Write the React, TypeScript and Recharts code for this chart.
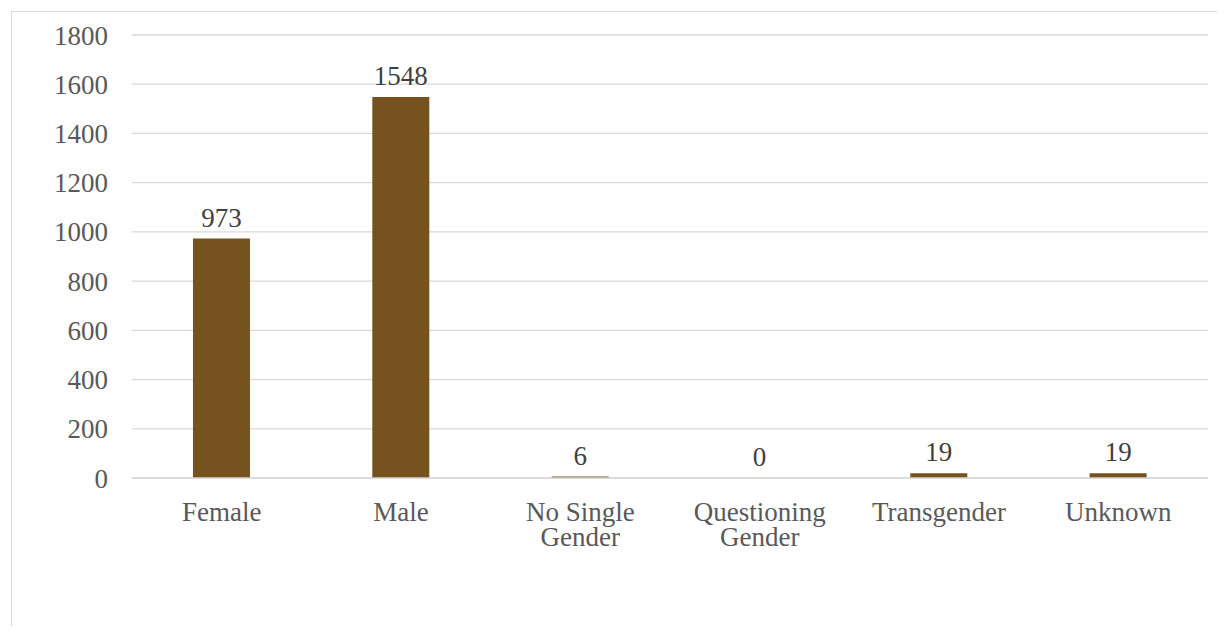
import React from "react";
import { Bar, BarChart, CartesianGrid, LabelList, XAxis, YAxis } from "recharts";

const categories = [
    "Female",
    "Male",
    "No Single Gender",
    "Questioning Gender",
    "Transgender",
    "Unknown",
];
const counts = [973, 1548, 6, 0, 19, 19];
const yTicks = [0, 200, 400, 600, 800, 1000, 1200, 1400, 1600, 1800];

const title = "Figure 6: Total Number of Enrolled Participants per Gender Designation";

const data = categories.map((label, i) => ({ label, total: counts[i] }));

const serif = "'Liberation Serif', 'Times New Roman', serif";

// two-word labels wrap their last word onto a second line
function CategoryTick({ x, y, payload }: any) {
    const words = String(payload.value).split(" ");
    const lines =
        words.length > 1
            ? [words.slice(0, -1).join(" "), words[words.length - 1]]
            : words;
    return (
        <text x={x} y={y} textAnchor="middle" fill="#595959" fontSize={27} fontFamily={serif}>
            {lines.map((line, i) => (
                <tspan key={i} x={x} dy={i === 0 ? 0 : 25}>
                    {line}
                </tspan>
            ))}
        </text>
    );
}

export default function App() {
    return (
        <div
            style={{
                position: "relative",
                width: 1225,
                height: 634,
                margin: -8,
                overflow: "hidden",
                background: "#fff",
            }}
        >
            <svg
                width={1225}
                height={20}
                style={{ position: "absolute", left: 0, top: 0 }}
            >
                <text x={22} y={1.5} fontSize={21} fontWeight="bold" fontFamily={serif} fill="#000">
                    {title}
                </text>
            </svg>
            <div
                style={{
                    position: "absolute",
                    left: 11,
                    top: 11,
                    width: 1400,
                    height: 800,
                    border: "1px solid #d9d9d9",
                }}
            />
            <div style={{ position: "absolute", left: 0, top: 0 }}>
                <BarChart
                    width={1225}
                    height={634}
                    data={data}
                    barCategoryGap="34%"
                    margin={{ top: 35, right: 17, bottom: 76, left: 0 }}
                >
                    <CartesianGrid
                        vertical={false}
                        stroke="#d9d9d9"
                        strokeWidth={1.3}
                    />
                    <XAxis
                        dataKey="label"
                        height={80}
                        interval={0}
                        axisLine={{ stroke: "#d9d9d9", strokeWidth: 1.3 }}
                        tickLine={false}
                        tickSize={0}
                        tickMargin={43}
                        tick={<CategoryTick />}
                    />
                    <YAxis
                        width={132}
                        domain={[0, 1800]}
                        ticks={yTicks}
                        axisLine={false}
                        tickLine={false}
                        tickSize={0}
                        tickMargin={24}
                        tick={{ fill: "#595959", fontSize: 27, fontFamily: serif }}
                    />
                    {/* a hairline minimum keeps the zero bar (and its label) in the layout */}
                    <Bar
                        dataKey="total"
                        fill="#76521e"
                        minPointSize={(v: number) => (v === 0 ? 0.01 : 0)}
                        isAnimationActive={false}
                    >
                        <LabelList
                            dataKey="total"
                            position="top"
                            offset={12}
                            fill="#404040"
                            fontSize={27}
                            fontFamily={serif}
                        />
                    </Bar>
                </BarChart>
            </div>
        </div>
    );
}
